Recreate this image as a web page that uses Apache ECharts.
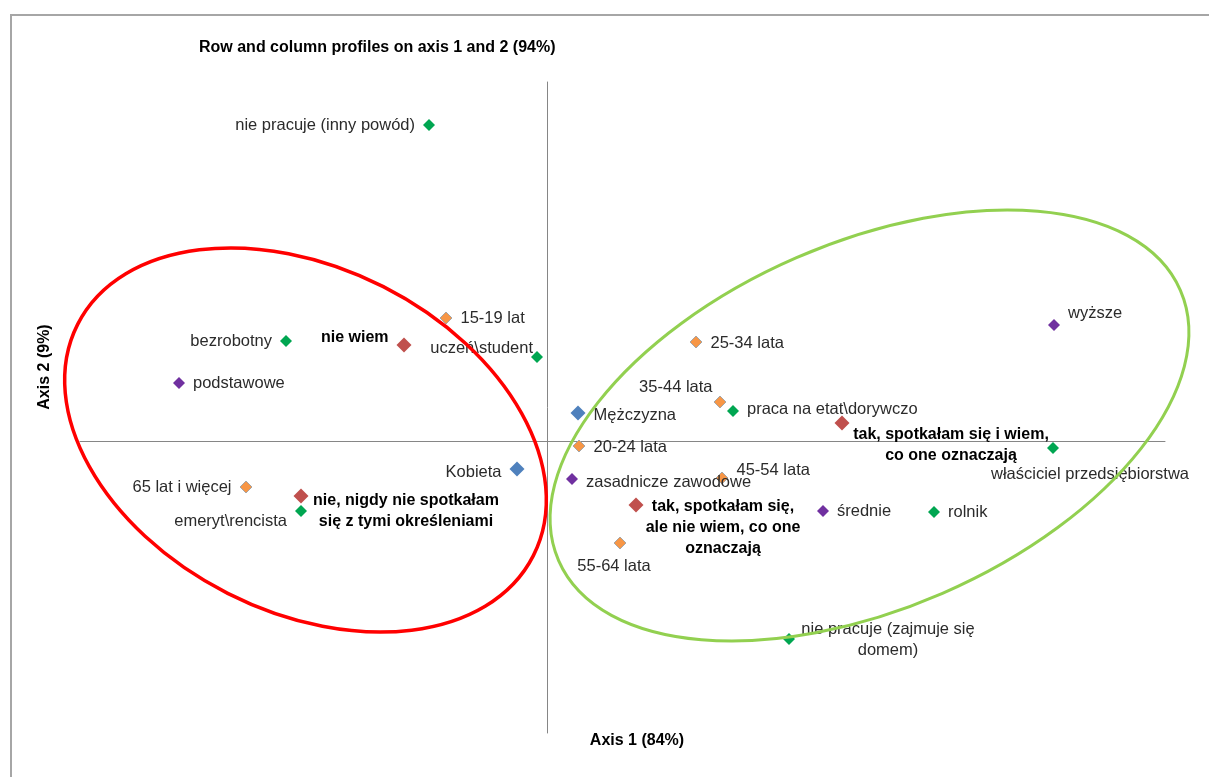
<!DOCTYPE html>
<html><head><meta charset="utf-8">
<script src="https://cdn.jsdelivr.net/npm/echarts@6/dist/echarts.min.js"></script>
<style>html,body{margin:0;padding:0;background:#fff}#c{width:1209px;height:777px}</style>
</head><body><div id="c"></div>
<script>
// ---- data (axis 1 = x, axis 2 = y) ----
const answerNames = ['nie wiem', 'tak, spotkałam się i wiem, co one oznaczają', 'tak, spotkałam się, ale nie wiem, co one oznaczają', 'nie, nigdy nie spotkałam się z tymi określeniami'];
const answerX = [-0.286, 0.590, 0.178, -0.492];
const answerY = [0.192, 0.036, -0.128, -0.110];

const genderNames = ['Mężczyzna', 'Kobieta'];
const genderX = [0.062, -0.060];
const genderY = [0.056, -0.056];

const ageNames = ['15-19 lat', '20-24 lata', '25-34 lata', '35-44 lata', '45-54 lata', '55-64 lata', '65 lat i więcej'];
const ageX = [-0.202, 0.064, 0.298, 0.346, 0.350, 0.146, -0.602];
const ageY = [0.246, -0.010, 0.198, 0.078, -0.074, -0.204, -0.092];

const jobNames = ['nie pracuje (inny powód)', 'bezrobotny', 'uczeń\\student', 'praca na etat\\dorywczo', 'właściciel przedsiębiorstwa', 'emeryt\\rencista', 'rolnik', 'nie pracuje (zajmuje się domem)'];
const jobX = [-0.236, -0.522, -0.020, 0.372, 1.012, -0.492, 0.774, 0.484];
const jobY = [0.632, 0.200, 0.168, 0.060, -0.014, -0.140, -0.142, -0.396];

const eduNames = ['podstawowe', 'zasadnicze zawodowe', 'średnie', 'wyższe'];
const eduX = [-0.736, 0.050, 0.552, 1.014];
const eduY = [0.116, -0.076, -0.140, 0.232];

// group outlines (centre, semi-axes in axis units, tilt in degrees)
const redGroup = {cx: -0.483, cy: 0.002, rx: 0.511, ry: 0.344, tilt: -26.9};
const greenGroup = {cx: 0.645, cy: 0.031, rx: 0.678, ry: 0.366, tilt: 23.5};

const titleText = 'Row and column profiles on axis 1 and 2 (94%)';
const axis1Title = 'Axis 1 (84%)';
const axis2Title = 'Axis 2 (9%)';

// ---- label layout ----
const labelPlace = {
  'nie wiem': {pos: 'left', off: [0, -7]},
  'tak, spotkałam się i wiem, co one oznaczają': {pos: 'inside', off: [109, 22], text: 'tak, spotkałam się i wiem,\nco one oznaczają'},
  'tak, spotkałam się, ale nie wiem, co one oznaczają': {pos: 'inside', off: [87, 23], text: 'tak, spotkałam się,\nale nie wiem, co one\noznaczają'},
  'nie, nigdy nie spotkałam się z tymi określeniami': {pos: 'inside', off: [105, 15], text: 'nie, nigdy nie spotkałam\nsię z tymi określeniami'},
  'Mężczyzna': {pos: 'right', off: [0, 2]},
  'Kobieta': {pos: 'left', off: [0, 3]},
  '15-19 lat': {pos: 'right'},
  '20-24 lata': {pos: 'right', off: [0, 1]},
  '25-34 lata': {pos: 'right', off: [0, 1]},
  '35-44 lata': {pos: 'left', off: [7, -15]},
  '45-54 lata': {pos: 'right', off: [0, -8]},
  '55-64 lata': {pos: 'inside', off: [-6, 23]},
  '65 lat i więcej': {pos: 'left'},
  'nie pracuje (inny powód)': {pos: 'left'},
  'bezrobotny': {pos: 'left'},
  'uczeń\\student': {pos: 'left', off: [10, -9]},
  'praca na etat\\dorywczo': {pos: 'right', off: [0, -2]},
  'właściciel przedsiębiorstwa': {pos: 'inside', off: [37, 26]},
  'emeryt\\rencista': {pos: 'left', off: [0, 10]},
  'rolnik': {pos: 'right'},
  'nie pracuje (zajmuje się domem)': {pos: 'inside', off: [99, 1], text: 'nie pracuje (zajmuje się\ndomem)'},
  'podstawowe': {pos: 'right'},
  'zasadnicze zawodowe': {pos: 'right', off: [0, 3]},
  'średnie': {pos: 'right'},
  'wyższe': {pos: 'right', off: [0, -12]}
};

const FONT = 'Liberation Sans';
const FS = 16.5;

function makeSeries(name, names, xs, ys, color, size, bold, border) {
  return {
    name: name,
    type: 'scatter',
    symbol: 'diamond',
    symbolSize: size,
    itemStyle: {color: color, borderColor: border || color, borderWidth: border ? 1 : 0, opacity: 1},
    z: 3,
    data: names.map((n, i) => {
      const p = labelPlace[n] || {pos: 'right'};
      return {
        name: n,
        value: [xs[i], ys[i]],
        label: {
          show: true,
          position: p.pos,
          offset: p.off || [0, 0],
          distance: 8,
          formatter: p.text || n,
          fontFamily: FONT,
          fontSize: bold ? 16 : FS,
          fontWeight: bold ? 'bold' : 'normal',
          color: bold ? '#000' : '#2b2b2b',
          lineHeight: 21,
          align: p.pos === 'inside' ? 'center' : undefined
        }
      };
    })
  };
}

const chart = echarts.init(document.getElementById('c'));
const option = {
  animation: false,
  backgroundColor: '#fff',
  title: {
    text: titleText, left: 194, top: 35,
    textStyle: {fontFamily: FONT, fontSize: 16, fontWeight: 'bold', color: '#000'}
  },
  grid: {left: 80, right: 44, top: 82, bottom: 44},
  xAxis: {
    type: 'value', min: -0.934, max: 1.236,
    axisLine: {show: true, onZero: true, lineStyle: {color: '#868686', width: 1}},
    axisTick: {show: false}, axisLabel: {show: false}, splitLine: {show: false}
  },
  yAxis: {
    type: 'value', min: -0.584, max: 0.718,
    axisLine: {show: true, onZero: true, lineStyle: {color: '#868686', width: 1}},
    axisTick: {show: false}, axisLabel: {show: false}, splitLine: {show: false}
  },
  series: [
    makeSeries('odpowiedzi', answerNames, answerX, answerY, '#C0504D', 15, true),
    makeSeries('płeć', genderNames, genderX, genderY, '#4F81BD', 15, false),
    makeSeries('wiek', ageNames, ageX, ageY, '#F79646', 12, false, '#A6A6A6'),
    makeSeries('zajęcie', jobNames, jobX, jobY, '#00A651', 12, false),
    makeSeries('wykształcenie', eduNames, eduX, eduY, '#7030A0', 12, false)
  ]
};
chart.setOption(option);

function ellipseEl(g, color, width) {
  const c = chart.convertToPixel({gridIndex: 0}, [g.cx, g.cy]);
  const o = chart.convertToPixel({gridIndex: 0}, [0, 0]);
  const ux = chart.convertToPixel({gridIndex: 0}, [1, 0])[0] - o[0];
  return {
    type: 'ellipse', z: 100,
    x: c[0], y: c[1], rotation: g.tilt * Math.PI / 180,
    shape: {cx: 0, cy: 0, rx: g.rx * ux, ry: g.ry * ux},
    style: {fill: null, stroke: color, lineWidth: width}
  };
}

chart.setOption({
  graphic: [
    {type: 'rect', z: 0, shape: {x: 11, y: 15, width: 1400, height: 900}, style: {fill: null, stroke: '#A6A6A6', lineWidth: 2}},
    ellipseEl(redGroup, '#FF0000', 3.5),
    ellipseEl(greenGroup, '#92D050', 3),
    {type: 'text', z: 100, x: 637, y: 741, style: {text: axis1Title, fontFamily: FONT, fontSize: 16, fontWeight: 'bold', fill: '#000', align: 'center', verticalAlign: 'middle'}},
    {type: 'text', z: 100, x: 45, y: 367, rotation: Math.PI / 2, style: {text: axis2Title, fontFamily: FONT, fontSize: 16, fontWeight: 'bold', fill: '#000', align: 'center', verticalAlign: 'middle'}}
  ]
});
</script>
</body></html>
